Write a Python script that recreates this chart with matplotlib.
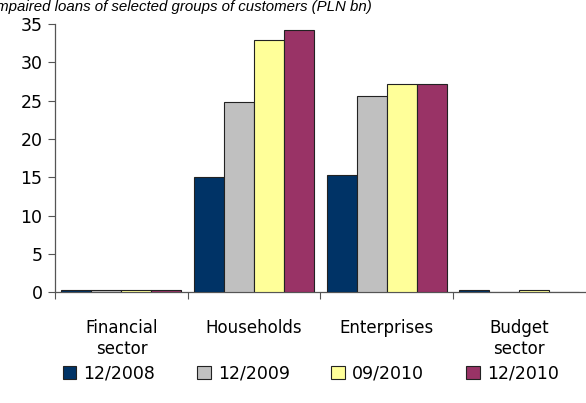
import numpy as np
import matplotlib.pyplot as plt
from matplotlib.patches import Patch
from matplotlib import font_manager

categories = ['Financial\nsector', 'Households', 'Enterprises', 'Budget\nsector']
series = ['12/2008', '12/2009', '09/2010', '12/2010']
values_2008_12 = [0.3, 15.0, 15.3, 0.3]
values_2009_12 = [0.3, 24.8, 25.6, 0.0]
values_2010_09 = [0.3, 32.9, 27.2, 0.3]
values_2010_12 = [0.3, 34.2, 27.2, 0.0]
colors = ['#003366', '#C0C0C0', '#FFFF99', '#993366']

data = [values_2008_12, values_2009_12, values_2010_09, values_2010_12]

plt.rcParams['font.family'] = ['DejaVu Sans']

fig = plt.figure(figsize=(5.86, 4.03), dpi=100)
ax = fig.add_axes([0.094, 0.275, 0.91, 0.665])

x = np.arange(len(categories))
w = 0.226
for i, (vals, c) in enumerate(zip(data, colors)):
    ax.bar(x + (i - 1.5) * w, vals, width=w, color=c, edgecolor='#222222',
           linewidth=0.8, zorder=3)

ax.set_ylim(0, 35)
ax.set_xlim(-0.5, len(categories) - 0.48)
ax.set_yticks(range(0, 36, 5))
ax.tick_params(axis='y', labelsize=12.5, length=5, color='#555555', pad=4)

ax.set_xticks(np.arange(len(categories)) - 0.5)
ax.set_xticklabels([])
ax.set_xticks(x, minor=True)
ax.set_xticklabels(categories, minor=True, fontsize=12, linespacing=1.25)
ax.tick_params(axis='x', which='major', length=5, color='#555555')
ax.tick_params(axis='x', which='minor', length=0, pad=19)

for s in ['top', 'right']:
    ax.spines[s].set_visible(False)
for s in ['left', 'bottom']:
    ax.spines[s].set_color('#555555')
    ax.spines[s].set_linewidth(0.9)

# title is cut at the left and top edge in the original, the font is narrower
names = {f.name for f in font_manager.fontManager.ttflist}
tfont = 'Liberation Sans Narrow' if 'Liberation Sans Narrow' in names else 'Liberation Sans'
title = fig.text(372 / 586, 1 - 11 / 403, 'Impaired loans of selected groups of customers (PLN bn)',
                 ha='right', va='baseline', fontsize=12, style='italic',
                 family=tfont)
r = fig.canvas.get_renderer()
tw = title.get_window_extent(r).width
title.set_fontsize(12 * 378 / tw)

handles = [Patch(facecolor=c, edgecolor='#222222', linewidth=0.8) for c in colors]
fig.legend(handles, series, loc='center', bbox_to_anchor=(0.53, 0.073), ncol=4,
           frameon=False, fontsize=12.5, handlelength=0.8, handleheight=0.8,
           handletextpad=0.4, columnspacing=2.4)

fig.savefig('out.png', dpi=100)
